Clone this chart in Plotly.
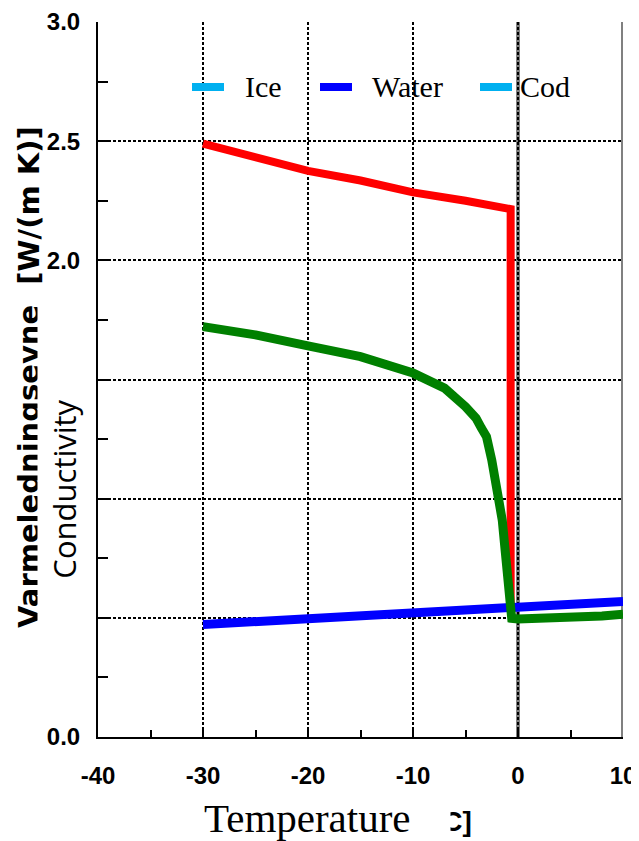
import plotly.graph_objects as go

# ---- data ----
temp_ice = [-30, -25, -20, -15, -10, -5, -1, -0.7, -0.7]
k_ice = [2.49, 2.43, 2.375, 2.335, 2.285, 2.25, 2.22, 2.215, 0.56]

temp_water = [-30, -25, -20, -15, -10, -5, 0, 5, 10]
k_water = [0.472, 0.485, 0.498, 0.51, 0.52, 0.533, 0.545, 0.555, 0.569]

temp_cod = [-30, -25, -20, -15, -10, -7, -5, -4, -3.5, -3, -2.5, -2, -1.5,
            -1.2, -1, -0.8, -0.6, 0, 2, 4, 6, 8, 10]
k_cod = [1.722, 1.687, 1.641, 1.596, 1.527, 1.464, 1.386, 1.338, 1.297, 1.26,
         1.162, 1.05, 0.91, 0.772, 0.63, 0.52, 0.498, 0.495, 0.497, 0.503,
         0.506, 0.508, 0.515]

legend_names = ["Ice", "Water", "Cod"]
legend_colors = ["#00B0F0", "#0000FF", "#00B0F0"]

x_ticks = [-40, -30, -20, -10, 0, 10]
x_labels = ["-40", "-30", "-20", "-10", "0", "10"]
y_ticks = [0, 0.5, 1.0, 1.5, 2.0, 2.5, 3.0]

# ---- geometry (screen pixels of the plot area; page has an 8px body margin) ----
L, R, T, B = 98, 623, 22, 737
W, H = 639, 841
OFF = 8
def px(xp):
    return (xp - L) / (R - L)
def py(yp):
    return (B - yp) / (B - T)

fig = go.Figure()
fig.add_trace(go.Scatter(x=temp_ice, y=k_ice, mode="lines",
                         line=dict(color="#FF0000", width=8), showlegend=False))
fig.add_trace(go.Scatter(x=temp_water, y=k_water, mode="lines",
                         line=dict(color="#0000FF", width=9), showlegend=False))
fig.add_trace(go.Scatter(x=temp_cod, y=k_cod, mode="lines",
                         line=dict(color="#008000", width=9), showlegend=False))

tickfont = dict(family="Liberation Sans, Arial", size=24, color="black", weight="bold")

fig.update_xaxes(range=[-40, 10], tickvals=x_ticks, ticktext=x_labels, ticks="inside",
                 ticklen=7, tickwidth=2, tickcolor="black", showline=True,
                 linecolor="black", linewidth=2, showgrid=True, gridcolor="black",
                 gridwidth=2, griddash="3px,2px", zeroline=False, tickfont=tickfont,
                 ticklabelstandoff=16, automargin=False,
                 minor=dict(dtick=5, ticks="inside", ticklen=7, tickwidth=2,
                            tickcolor="black", showgrid=False))
fig.update_yaxes(range=[0, 3], tickvals=y_ticks, tickformat=".1f", ticks="inside",
                 ticklen=10, tickwidth=2, tickcolor="black", showline=True,
                 linecolor="black", linewidth=2, showgrid=True, gridcolor="black",
                 gridwidth=2, griddash="3px,2px", zeroline=False, tickfont=tickfont,
                 ticklabelstandoff=11, automargin=False,
                 minor=dict(dtick=0.25, ticks="inside", ticklen=10, tickwidth=2,
                            tickcolor="black", showgrid=False))

shapes = [
    dict(type="line", xref="x", yref="paper", x0=0, x1=0, y0=0, y1=1,
         line=dict(color="#808080", width=4), layer="below"),
    dict(type="line", xref="x", yref="paper", x0=10, x1=10, y0=0, y1=1,
         line=dict(color="#808080", width=4), layer="below"),
]
# legend symbols
sym_px = [(192, 224), (320, 352), (480, 512)]
for (a, b), c in zip(sym_px, legend_colors):
    shapes.append(dict(type="line", xref="paper", yref="paper", x0=px(a), x1=px(b),
                       y0=py(87), y1=py(87), line=dict(color=c, width=8), layer="above"))

annotations = []
serif = "Liberation Serif, Times New Roman, serif"
lbl_px = [243, 370, 518]
for name, xp in zip(legend_names, lbl_px):
    annotations.append(dict(text=name, xref="paper", yref="paper", x=px(xp), y=py(86),
                            xanchor="left", yanchor="middle", showarrow=False,
                            font=dict(family=serif, size=30, color="black")))

# bold axis titles (partially covered by the plain labels on white)
annotations.append(dict(text="Varmeledningsevne  [W/(m K)]", xref="paper", yref="paper",
                        x=px(29), y=py(377), xanchor="center", yanchor="middle",
                        textangle=-90, showarrow=False,
                        font=dict(family="DejaVu Sans, Liberation Sans", size=29,
                                  color="black", weight="bold")))
annotations.append(dict(text="Temperatur [°C]", xref="paper", yref="paper",
                        x=px(474), y=py(821), xanchor="right", yanchor="middle",
                        showarrow=False,
                        font=dict(family="Liberation Sans, Arial", size=28,
                                  color="black", weight="bold")))
# overlay labels on white
annotations.append(dict(text="Conductivity", xref="paper", yref="paper",
                        x=px(64), y=py(489), xanchor="center", yanchor="middle",
                        textangle=-90, showarrow=False, width=404, height=52,
                        bgcolor="white", borderpad=0,
                        font=dict(family="Open Sans, Noto Sans, sans-serif", size=31,
                                  color="black")))
annotations.append(dict(text="Temperature", xref="paper", yref="paper",
                        x=px(327), y=py(818), xanchor="center", yanchor="middle",
                        showarrow=False, width=246, height=46, align="left",
                        bgcolor="white", borderpad=0,
                        font=dict(family=serif, size=41, color="black")))

fig.update_layout(width=W, height=H,
                  margin=dict(l=L - OFF, r=W - (R - OFF), t=T - OFF, b=H - (B - OFF)),
                  plot_bgcolor="white", paper_bgcolor="white",
                  shapes=shapes, annotations=annotations, showlegend=False)

fig.write_html("out.html")
